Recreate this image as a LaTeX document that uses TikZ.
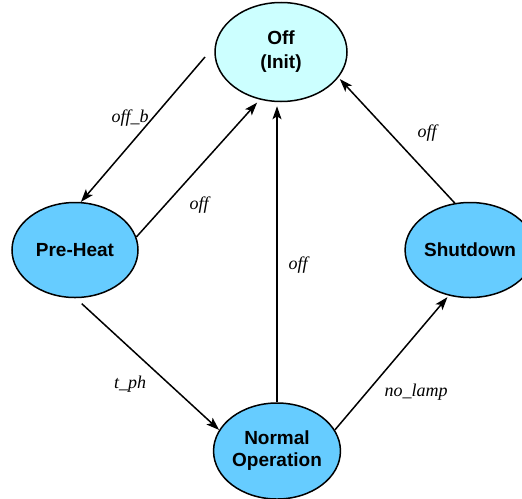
\documentclass[tikz,border=0pt]{standalone}
\usepackage{fontspec}
\setmainfont{Liberation Serif}
\setsansfont{Liberation Sans}
\usetikzlibrary{shapes.geometric,arrows.meta}
\definecolor{initcol}{HTML}{CCFFFF}
\definecolor{statecol}{HTML}{66CCFF}

\begin{document}
\begin{tikzpicture}[x=0.5pt,y=-0.5pt,
	state/.style={ellipse,draw,line width=0.75pt,fill=statecol,align=center,inner sep=0pt,font=\sffamily\bfseries\fontsize{9.5}{11}\selectfont},
	trans/.style={line width=0.75pt,-{Stealth[length=6.5pt,width=4.5pt,inset=1.5pt]}},
	lbl/.style={font=\itshape\fontsize{9}{10}\selectfont,inner sep=0pt}]
		\useasboundingbox (0,0) rectangle (522,498);

		\node[state,fill=initcol,minimum width=66pt,minimum height=49.5pt]	(off)		at (281,52)		{\raisebox{-2pt}{\shortstack{Off\\[2pt](Init)}}};
		\node[state,minimum width=63pt,minimum height=47.5pt]				(preheat)	at (75,250)		{Pre-Heat};
		\node[state,minimum width=64pt,minimum height=47.5pt]				(shutdown)	at (470,250)	{Shutdown};
		\node[state,minimum width=62pt,minimum height=48pt]					(normal)	at (277,451)	{Normal\\Operation};
		\coordinate (offbstart) at (205,57);

		\draw[trans] (offbstart) -- (preheat.83);
		\draw[trans,shorten >=2pt] (preheat.12) -- (off.246);
		\draw[trans,shorten >=2pt] (normal.north) -- (normal.north |- off.south);
		\draw[trans,shorten <=4pt] (preheat.271) -- (normal.160);
		\draw[trans,shorten >=1pt] (normal.20) -- (shutdown.245);
		\draw[trans,shorten >=1pt] (shutdown.108) -- (off.-24);

		\node[lbl] (offb)	at (130,118)	{off\_b};
		\node[lbl] (off1)	at (199,205)	{off};
		\node[lbl] (off2)	at (298,265)	{off};
		\node[lbl] (tph)	at (130,384)	{t\_ph};
		\node[lbl] (nolamp)	at (416,392)	{no\_lamp};
		\node[lbl] (off3)	at (427,133)	{off};
	\end{tikzpicture}
\end{document}
